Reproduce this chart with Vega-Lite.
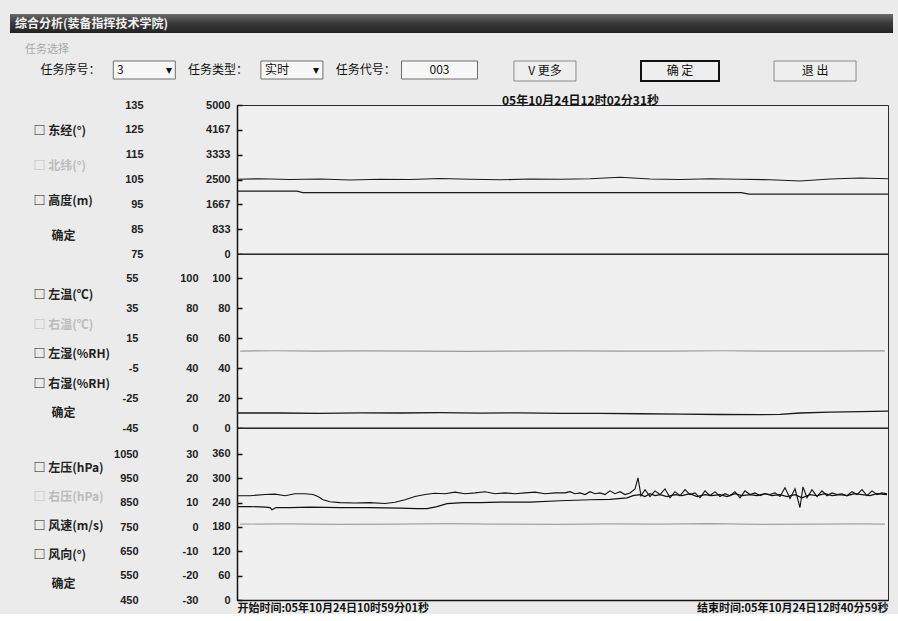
{
  "$schema": "https://vega.github.io/schema/vega-lite/v6.json",
  "padding": {"left": 10, "top": 14, "right": 5, "bottom": 0},
  "background": "#ebebeb",
  "spacing": 12,
  "config": {
    "view": {"stroke": null},
    "font": "Noto Sans CJK SC",
    "axis": {"grid": false, "labelFont": "Liberation Sans"},
    "text": {"font": "Noto Sans CJK SC"},
    "title": {"font": "Noto Sans CJK SC"}
  },
  "datasets": {
    "task": [
      {"控件": "任务序号：", "类型": "标签", "显示": "任务序号："},
      {"控件": "3", "类型": "下拉框", "显示": "3\u2003\u2003\u2003\u2002▾"},
      {"控件": "任务类型：", "类型": "标签", "显示": "任务类型："},
      {"控件": "实时", "类型": "下拉框", "显示": "实时\u2003\u2003▾"},
      {"控件": "任务代号：", "类型": "标签", "显示": "任务代号："},
      {"控件": "003", "类型": "编辑框", "显示": "003\u2003\u2003\u2003\u2003"}
    ],
    "buttons": [
      {"控件": "V 更多"},
      {"控件": "确 定"},
      {"控件": "退 出"}
    ],
    "ctlTop": [
      {"控件": "□ 东经(°)"},
      {"控件": "□ 北纬(°)"},
      {"控件": "□ 高度(m)"},
      {"控件": "\u200b\u2003\u2002确定"}
    ],
    "ctlMid": [
      {"控件": "□ 左温(℃)"},
      {"控件": "□ 右温(℃)"},
      {"控件": "□ 左湿(%RH)"},
      {"控件": "□ 右湿(%RH)"},
      {"控件": "\u200b\u2003\u2002确定"}
    ],
    "ctlBot": [
      {"控件": "□ 左压(hPa)"},
      {"控件": "□ 右压(hPa)"},
      {"控件": "□ 风速(m/s)"},
      {"控件": "□ 风向(°)"},
      {"控件": "\u200b\u2003\u2002确定"}
    ],
    "lon": [
      {"分钟": 0, "数值": 105.1}, {"分钟": 3.6, "数值": 105.3}, {"分钟": 8.3, "数值": 105.0}, {"分钟": 13.0, "数值": 105.2},
      {"分钟": 17.7, "数值": 104.8}, {"分钟": 22.4, "数值": 105.1}, {"分钟": 27.1, "数值": 105.0}, {"分钟": 31.8, "数值": 105.4},
      {"分钟": 36.5, "数值": 105.1}, {"分钟": 41.2, "数值": 104.9}, {"分钟": 45.9, "数值": 105.2}, {"分钟": 50.6, "数值": 105.1},
      {"分钟": 55.3, "数值": 105.3}, {"分钟": 60.0, "数值": 105.9}, {"分钟": 64.7, "数值": 105.2}, {"分钟": 69.4, "数值": 105.0},
      {"分钟": 74.1, "数值": 105.3}, {"分钟": 78.8, "数值": 105.1}, {"分钟": 83.5, "数值": 104.9}, {"分钟": 88.2, "数值": 104.4},
      {"分钟": 92.9, "数值": 105.2}, {"分钟": 97.6, "数值": 105.6}, {"分钟": 101.97, "数值": 105.3}
    ],
    "alt": [
      {"分钟": 0, "数值": 2110}, {"分钟": 9.4, "数值": 2110}, {"分钟": 10.3, "数值": 2057},
      {"分钟": 79.0, "数值": 2057}, {"分钟": 80.2, "数值": 2010}, {"分钟": 101.97, "数值": 2010}
    ],
    "humR": [
      {"分钟": 0, "数值": 10.0}, {"分钟": 6.74, "数值": 10.0}, {"分钟": 13.0, "数值": 9.8}, {"分钟": 19.27, "数值": 10.1},
      {"分钟": 25.53, "数值": 10.0}, {"分钟": 31.8, "数值": 10.2}, {"分钟": 38.06, "数值": 9.9}, {"分钟": 44.33, "数值": 10.1},
      {"分钟": 50.59, "数值": 9.8}, {"分钟": 56.86, "数值": 9.7}, {"分钟": 63.12, "数值": 9.5}, {"分钟": 69.39, "数值": 9.3},
      {"分钟": 75.65, "数值": 9.0}, {"分钟": 81.92, "数值": 8.9}, {"分钟": 85.05, "数值": 9.1}, {"分钟": 88.18, "数值": 10.0},
      {"分钟": 92.88, "数值": 10.6}, {"分钟": 97.58, "数值": 10.9}, {"分钟": 101.97, "数值": 11.2}
    ],
    "humL": [],
    "tempL": [
      {"分钟": 0.5, "数值": 6.3}, {"分钟": 6, "数值": 6.5}, {"分钟": 12, "数值": 6.2}, {"分钟": 20, "数值": 6.4},
      {"分钟": 28, "数值": 6.3}, {"分钟": 36, "数值": 6.1}, {"分钟": 44, "数值": 6.3}, {"分钟": 52, "数值": 6.4},
      {"分钟": 60, "数值": 6.2}, {"分钟": 68, "数值": 6.3}, {"分钟": 76, "数值": 6.5}, {"分钟": 84, "数值": 6.2},
      {"分钟": 92, "数值": 6.3}, {"分钟": 101.5, "数值": 6.4}
    ],
    "wdir": [
      {"分钟": 0, "数值": 257}, {"分钟": 2.04, "数值": 257}, {"分钟": 4.39, "数值": 260}, {"分钟": 5.95, "数值": 261},
      {"分钟": 7.52, "数值": 257}, {"分钟": 9.08, "数值": 262}, {"分钟": 10.65, "数值": 262}, {"分钟": 11.9, "数值": 260},
      {"分钟": 12.69, "数值": 255}, {"分钟": 13.47, "数值": 247}, {"分钟": 14.57, "数值": 242}, {"分钟": 16.13, "数值": 240},
      {"分钟": 18.48, "数值": 239}, {"分钟": 20.83, "数值": 240}, {"分钟": 23.18, "数值": 238}, {"分钟": 24.75, "数值": 241},
      {"分钟": 26.31, "数值": 247}, {"分钟": 27.88, "数值": 255}, {"分钟": 29.45, "数值": 260}, {"分钟": 31.01, "数值": 263},
      {"分钟": 32.58, "数值": 262}, {"分钟": 34.15, "数值": 266}, {"分钟": 35.71, "数值": 262}, {"分钟": 37.28, "数值": 264},
      {"分钟": 38.84, "数值": 267}, {"分钟": 40.41, "数值": 262}, {"分钟": 41.98, "数值": 264}, {"分钟": 43.54, "数值": 262},
      {"分钟": 45.11, "数值": 264}, {"分钟": 46.68, "数值": 266}, {"分钟": 48.24, "数值": 262}, {"分钟": 49.81, "数值": 264},
      {"分钟": 51.38, "数值": 264}, {"分钟": 52.16, "数值": 267}, {"分钟": 52.94, "数值": 262}, {"分钟": 53.72, "数值": 264},
      {"分钟": 54.51, "数值": 260}, {"分钟": 55.29, "数值": 267}, {"分钟": 56.07, "数值": 262}, {"分钟": 56.86, "数值": 264},
      {"分钟": 57.64, "数值": 260}, {"分钟": 58.42, "数值": 269}, {"分钟": 59.21, "数值": 262}, {"分钟": 59.99, "数值": 267},
      {"分钟": 60.77, "数值": 260}, {"分钟": 61.56, "数值": 264}, {"分钟": 62.34, "数值": 274}, {"分钟": 62.81, "数值": 301},
      {"分钟": 63.28, "数值": 257}, {"分钟": 63.91, "数值": 272}, {"分钟": 64.69, "数值": 255}, {"分钟": 65.47, "数值": 269},
      {"分钟": 66.26, "数值": 260}, {"分钟": 67.04, "数值": 274}, {"分钟": 67.82, "数值": 252}, {"分钟": 68.6, "数值": 267},
      {"分钟": 69.39, "数值": 257}, {"分钟": 70.17, "数值": 272}, {"分钟": 70.95, "数值": 260}, {"分钟": 71.74, "数值": 264},
      {"分钟": 72.52, "数值": 252}, {"分钟": 73.3, "数值": 269}, {"分钟": 74.09, "数值": 257}, {"分钟": 74.87, "数值": 267},
      {"分钟": 75.65, "数值": 255}, {"分钟": 76.44, "数值": 262}, {"分钟": 77.22, "数值": 257}, {"分钟": 78.0, "数值": 267},
      {"分钟": 78.79, "数值": 252}, {"分钟": 79.57, "数值": 269}, {"分钟": 80.35, "数值": 260}, {"分钟": 81.14, "数值": 264},
      {"分钟": 81.92, "数值": 257}, {"分钟": 82.7, "数值": 262}, {"分钟": 83.48, "数值": 260}, {"分钟": 84.27, "数值": 264},
      {"分钟": 85.05, "数值": 255}, {"分钟": 85.83, "数值": 277}, {"分钟": 86.62, "数值": 250}, {"分钟": 87.4, "数值": 274},
      {"分钟": 88.18, "数值": 228}, {"分钟": 88.65, "数值": 279}, {"分钟": 89.28, "数值": 252}, {"分钟": 90.06, "数值": 272},
      {"分钟": 90.85, "数值": 255}, {"分钟": 91.63, "数值": 269}, {"分钟": 92.41, "数值": 257}, {"分钟": 93.2, "数值": 264},
      {"分钟": 93.98, "数值": 260}, {"分钟": 94.76, "数值": 262}, {"分钟": 95.54, "数值": 257}, {"分钟": 96.33, "数值": 267},
      {"分钟": 97.11, "数值": 260}, {"分钟": 97.89, "数值": 272}, {"分钟": 98.68, "数值": 257}, {"分钟": 99.46, "数值": 269},
      {"分钟": 100.24, "数值": 260}, {"分钟": 101.03, "数值": 264}, {"分钟": 101.81, "数值": 262}
    ],
    "presL": [
      {"分钟": 0, "数值": 834}, {"分钟": 2.04, "数值": 834}, {"分钟": 4.39, "数值": 832}, {"分钟": 5.17, "数值": 830},
      {"分钟": 5.48, "数值": 821}, {"分钟": 6.11, "数值": 830}, {"分钟": 8.3, "数值": 830}, {"分钟": 11.43, "数值": 832},
      {"分钟": 16.13, "数值": 830}, {"分钟": 20.83, "数值": 830}, {"分钟": 25.53, "数值": 828}, {"分钟": 28.19, "数值": 826},
      {"分钟": 29.76, "数值": 826}, {"分钟": 31.33, "数值": 834}, {"分钟": 32.89, "数值": 846}, {"分钟": 35.4, "数值": 850},
      {"分钟": 38.06, "数值": 850}, {"分钟": 41.19, "数值": 852}, {"分钟": 45.89, "数值": 852}, {"分钟": 50.59, "数值": 858},
      {"分钟": 55.29, "数值": 862}, {"分钟": 58.42, "数值": 864}, {"分钟": 61.09, "数值": 870}, {"分钟": 62.03, "数值": 879},
      {"分钟": 63.12, "数值": 883}, {"分钟": 63.91, "数值": 875}, {"分钟": 64.69, "数值": 887}, {"分钟": 65.47, "数值": 879},
      {"分钟": 66.26, "数值": 883}, {"分钟": 67.35, "数值": 875}, {"分钟": 68.6, "数值": 883}, {"分钟": 69.7, "数值": 879},
      {"分钟": 70.95, "数值": 887}, {"分钟": 72.05, "数值": 875}, {"分钟": 73.3, "数值": 883}, {"分钟": 74.4, "数值": 879},
      {"分钟": 75.65, "数值": 883}, {"分钟": 76.75, "数值": 875}, {"分钟": 78.0, "数值": 887}, {"分钟": 79.1, "数值": 879},
      {"分钟": 80.35, "数值": 883}, {"分钟": 81.45, "数值": 879}, {"分钟": 82.7, "数值": 887}, {"分钟": 83.8, "数值": 879},
      {"分钟": 85.05, "数值": 883}, {"分钟": 86.15, "数值": 875}, {"分钟": 87.4, "数值": 883}, {"分钟": 88.5, "数值": 870},
      {"分钟": 89.75, "数值": 883}, {"分钟": 90.85, "数值": 879}, {"分钟": 92.1, "数值": 887}, {"分钟": 93.2, "数值": 879},
      {"分钟": 94.45, "数值": 883}, {"分钟": 95.54, "数值": 879}, {"分钟": 96.8, "数值": 887}, {"分钟": 97.89, "数值": 883},
      {"分钟": 99.15, "数值": 879}, {"分钟": 100.24, "数值": 887}, {"分钟": 101.81, "数值": 883}
    ],
    "wspd": [
      {"分钟": 0.5, "数值": 1.2}, {"分钟": 8, "数值": 1.3}, {"分钟": 16, "数值": 1.1}, {"分钟": 25, "数值": 1.2},
      {"分钟": 33, "数值": 1.4}, {"分钟": 40, "数值": 1.2}, {"分钟": 50, "数值": 1.1}, {"分钟": 58, "数值": 1.3},
      {"分钟": 66, "数值": 1.2}, {"分钟": 74, "数值": 1.4}, {"分钟": 82, "数值": 1.1}, {"分钟": 90, "数值": 1.2},
      {"分钟": 98, "数值": 1.3}, {"分钟": 101.5, "数值": 1.2}
    ]
  },
  "vconcat": [
    {
      "spacing": 10,
      "vconcat": [
        {
          "width": 883,
          "height": 19,
          "view": {"stroke": null, "fill": {"gradient": "linear", "x1": 0, "y1": 0, "x2": 0, "y2": 1, "stops": [{"offset": 0, "color": "#6a6a6a"}, {"offset": 0.45, "color": "#3c3c3c"}, {"offset": 1, "color": "#222222"}]}},
          "data": {"values": [{"窗口": "综合分析(装备指挥技术学院)"}]},
          "mark": {"type": "text", "align": "left", "baseline": "middle", "color": "#f2f2f2", "fontSize": 12, "fontWeight": "bold", "dx": 5},
          "encoding": {
            "text": {"field": "窗口"},
            "x": {"datum": 0, "type": "quantitative", "scale": {"domain": [0, 1]}, "axis": null}
          }
        },
        {
          "spacing": 0,
          "hconcat": [
            {
              "width": 490,
              "height": 18,
              "title": {"text": "任务选择", "anchor": "start", "dx": 15, "offset": 6, "fontSize": 11, "fontWeight": "normal", "color": "#a8a8a8"},
              "data": {"name": "task"},
              "encoding": {
                "x": {"field": "控件", "type": "nominal", "scale": {"type": "point", "padding": 0.82, "domain": ["任务序号：", "3", "任务类型：", "实时", "任务代号：", "003"]}, "axis": null}
              },
              "layer": [
                {
                  "transform": [{"filter": "datum['类型'] !== '标签'"}],
                  "mark": {"type": "bar", "fill": "#f7f7f7", "stroke": "#6e6e6e", "strokeWidth": 1},
                  "encoding": {
                    "y": {"datum": 0, "type": "quantitative", "scale": {"domain": [0, 1]}, "axis": null},
                    "y2": {"datum": 1},
                    "size": {"condition": {"test": "datum['类型'] === '编辑框'", "value": 76}, "value": 62}
                  }
                },
                {
                  "mark": {"type": "text", "fontSize": 12, "color": "#111111"},
                  "encoding": {"text": {"field": "显示"}}
                }
              ]
            },
            {
              "width": 360,
              "height": 20,
              "data": {"name": "buttons"},
              "encoding": {
                "x": {"field": "控件", "type": "nominal", "scale": {"type": "point", "padding": 0.333, "domain": ["V 更多", "确 定", "退 出"]}, "axis": null}
              },
              "layer": [
                {
                  "mark": {"type": "bar", "fill": "#eeeeee"},
                  "encoding": {
                    "y": {"datum": 0, "type": "quantitative", "scale": {"domain": [0, 1]}, "axis": null},
                    "y2": {"datum": 1},
                    "size": {"condition": [{"test": "datum['控件'] === '确 定'", "value": 78}, {"test": "datum['控件'] === '退 出'", "value": 82}], "value": 62},
                    "stroke": {"condition": {"test": "datum['控件'] === '确 定'", "value": "#111111"}, "value": "#8a8a8a"},
                    "strokeWidth": {"condition": {"test": "datum['控件'] === '确 定'", "value": 2}, "value": 1}
                  }
                },
                {
                  "mark": {"type": "text", "fontSize": 12, "color": "#111111"},
                  "encoding": {"text": {"field": "控件"}}
                }
              ]
            }
          ]
        }
      ]
    },
    {
      "spacing": 21,
      "hconcat": [
        {
          "width": 1,
          "height": 1,
          "data": {"values": [{"占位": 0}]},
          "mark": {"type": "point", "opacity": 0, "size": 0, "strokeWidth": 0}
        },
        {
          "spacing": 0,
          "bounds": "flush",
          "vconcat": [
            {
              "width": 651,
              "height": 149,
              "title": {"text": "05年10月24日12时02分31秒", "anchor": "middle", "dx": 18, "offset": -9, "fontSize": 12, "fontWeight": "bold", "color": "#111111"},
              "view": {"stroke": "#2a2a2a", "strokeWidth": 1, "fill": "#f0f0f0"},
              "resolve": {"scale": {"y": "independent"}, "axis": {"y": "independent"}},
              "layer": [
                {
                  "data": {"name": "alt"},
                  "mark": {"type": "line", "color": "#1a1a1a", "strokeWidth": 1.2},
                  "encoding": {
                    "x": {"field": "分钟", "type": "quantitative", "scale": {"domain": [0, 101.967], "nice": false, "zero": false},
                      "axis": {"orient": "bottom", "labels": false, "ticks": false, "domain": true, "domainColor": "#111111", "domainWidth": 2, "title": null}},
                    "y": {"field": "数值", "type": "quantitative", "scale": {"domain": [0, 5000], "nice": false, "zero": false},
                      "axis": {"orient": "left", "offset": 0, "values": [0, 833, 1667, 2500, 3333, 4167, 5000], "labelExpr": "'' + datum.value", "title": null, "domain": true, "domainColor": "#111111", "domainWidth": 1.5, "ticks": true, "tickSize": -5, "tickColor": "#111111", "tickWidth": 1.5, "labelPadding": 12, "labelFontSize": 11, "labelFontWeight": "bold", "labelColor": "#222222", "labelFlush": false, "labelOverlap": false, "labelBound": false}}
                  }
                },
                {
                  "data": {"name": "lon"},
                  "mark": {"type": "line", "color": "#1a1a1a", "strokeWidth": 1.2},
                  "encoding": {
                    "x": {"field": "分钟", "type": "quantitative"},
                    "y": {"field": "数值", "type": "quantitative", "scale": {"domain": [75, 135], "nice": false, "zero": false},
                      "axis": {"orient": "left", "offset": 94, "values": [75, 85, 95, 105, 115, 125, 135], "labelExpr": "'' + datum.value", "title": null, "domain": false, "ticks": false, "labelPadding": 0, "labelFontSize": 11, "labelFontWeight": "bold", "labelColor": "#222222", "labelFlush": false, "labelOverlap": false}}
                  }
                },
                {
                  "data": {"name": "ctlTop"},
                  "mark": {"type": "point", "opacity": 0},
                  "encoding": {
                    "y": {"field": "控件", "type": "nominal", "sort": null, "scale": {"type": "point", "padding": 0.643, "align": 0.58},
                      "axis": {"orient": "left", "offset": 202, "labelPadding": 2, "title": null, "domain": false, "ticks": false, "labelAlign": "left", "labelFont": "Noto Sans CJK SC", "labelFontSize": 12, "labelFontWeight": "bold",
                        "labelColor": {"condition": {"test": "indexof(datum.value, '北纬') >= 0", "value": "#bbbbbb"}, "value": "#222222"}}}
                  }
                }
              ]
            },
            {
              "width": 651,
              "height": 174,
              "view": {"stroke": "#2a2a2a", "strokeWidth": 1, "fill": "#f0f0f0"},
              "resolve": {"scale": {"y": "independent"}, "axis": {"y": "independent"}},
              "layer": [
                {
                  "data": {"name": "humR"},
                  "mark": {"type": "line", "color": "#1a1a1a", "strokeWidth": 1.3},
                  "encoding": {
                    "x": {"field": "分钟", "type": "quantitative", "scale": {"domain": [0, 101.967], "nice": false, "zero": false},
                      "axis": {"orient": "bottom", "labels": false, "ticks": false, "domain": true, "domainColor": "#111111", "domainWidth": 2, "title": null}},
                    "y": {"field": "数值", "type": "quantitative", "scale": {"domain": [0, 116], "nice": false, "zero": false},
                      "axis": {"orient": "left", "offset": 0, "values": [0, 20, 40, 60, 80, 100], "labelExpr": "'' + datum.value", "title": null, "domain": true, "domainColor": "#111111", "domainWidth": 1.5, "ticks": true, "tickSize": -5, "tickColor": "#111111", "tickWidth": 1.5, "labelPadding": 12, "labelFontSize": 11, "labelFontWeight": "bold", "labelColor": "#222222", "labelFlush": false, "labelOverlap": false, "labelBound": false}}
                  }
                },
                {
                  "data": {"name": "humL"},
                  "mark": {"type": "line", "color": "#1a1a1a", "strokeWidth": 1.2},
                  "encoding": {
                    "x": {"field": "分钟", "type": "quantitative"},
                    "y": {"field": "数值", "type": "quantitative", "scale": {"domain": [0, 116], "nice": false, "zero": false},
                      "axis": {"orient": "left", "offset": 39, "values": [0, 20, 40, 60, 80, 100], "labelExpr": "'' + datum.value", "title": null, "domain": false, "ticks": false, "labelPadding": 0, "labelFontSize": 11, "labelFontWeight": "bold", "labelColor": "#222222", "labelFlush": false, "labelOverlap": false}}
                  }
                },
                {
                  "data": {"name": "tempL"},
                  "mark": {"type": "line", "color": "#9a9a9a", "strokeWidth": 1.2},
                  "encoding": {
                    "x": {"field": "分钟", "type": "quantitative"},
                    "y": {"field": "数值", "type": "quantitative", "scale": {"domain": [-45, 71], "nice": false, "zero": false},
                      "axis": {"orient": "left", "offset": 99, "values": [-45, -25, -5, 15, 35, 55], "labelExpr": "'' + datum.value", "title": null, "domain": false, "ticks": false, "labelPadding": 0, "labelFontSize": 11, "labelFontWeight": "bold", "labelColor": "#222222", "labelFlush": false, "labelOverlap": false}}
                  }
                },
                {
                  "data": {"name": "ctlMid"},
                  "mark": {"type": "point", "opacity": 0},
                  "encoding": {
                    "y": {"field": "控件", "type": "nominal", "sort": null, "scale": {"type": "point", "padding": 0.949, "align": 0.73},
                      "axis": {"orient": "left", "offset": 202, "labelPadding": 2, "title": null, "domain": false, "ticks": false, "labelAlign": "left", "labelFont": "Noto Sans CJK SC", "labelFontSize": 12, "labelFontWeight": "bold",
                        "labelColor": {"condition": {"test": "indexof(datum.value, '右温') >= 0", "value": "#bbbbbb"}, "value": "#222222"}}}
                  }
                }
              ]
            },
            {
              "width": 651,
              "height": 172,
              "view": {"stroke": "#2a2a2a", "strokeWidth": 1, "fill": "#f0f0f0"},
              "resolve": {"scale": {"y": "independent"}, "axis": {"y": "independent"}},
              "layer": [
                {
                  "data": {"name": "wdir"},
                  "mark": {"type": "line", "color": "#111111", "strokeWidth": 1.1},
                  "encoding": {
                    "x": {"field": "分钟", "type": "quantitative", "scale": {"domain": [0, 101.967], "nice": false, "zero": false},
                      "axis": {"orient": "bottom", "values": [0, 101.967], "labelExpr": "datum.value < 50 ? '开始时间:05年10月24日10时59分01秒' : '结束时间:05年10月24日12时40分59秒'", "labelFlush": true, "labelLimit": 0, "labelFont": "Noto Sans CJK SC", "labelFontSize": 11, "labelFontWeight": "bold", "labelColor": "#111111", "labelPadding": 2, "ticks": false, "domain": true, "domainColor": "#111111", "domainWidth": 1.5, "title": null}},
                    "y": {"field": "数值", "type": "quantitative", "scale": {"domain": [0, 424], "nice": false, "zero": false},
                      "axis": {"orient": "left", "offset": 0, "values": [0, 60, 120, 180, 240, 300, 360], "labelExpr": "'' + datum.value", "title": null, "domain": true, "domainColor": "#111111", "domainWidth": 1.5, "ticks": true, "tickSize": -5, "tickColor": "#111111", "tickWidth": 1.5, "labelPadding": 12, "labelFontSize": 11, "labelFontWeight": "bold", "labelColor": "#222222", "labelFlush": false, "labelOverlap": false, "labelBound": false}}
                  }
                },
                {
                  "data": {"name": "wspd"},
                  "mark": {"type": "line", "color": "#a0a0a0", "strokeWidth": 1.2},
                  "encoding": {
                    "x": {"field": "分钟", "type": "quantitative"},
                    "y": {"field": "数值", "type": "quantitative", "scale": {"domain": [-30, 40.7], "nice": false, "zero": false},
                      "axis": {"orient": "left", "offset": 39, "values": [-30, -20, -10, 0, 10, 20, 30], "labelExpr": "'' + datum.value", "title": null, "domain": false, "ticks": false, "labelPadding": 0, "labelFontSize": 11, "labelFontWeight": "bold", "labelColor": "#222222", "labelFlush": false, "labelOverlap": false}}
                  }
                },
                {
                  "data": {"name": "presL"},
                  "mark": {"type": "line", "color": "#111111", "strokeWidth": 1.2},
                  "encoding": {
                    "x": {"field": "分钟", "type": "quantitative"},
                    "y": {"field": "数值", "type": "quantitative", "scale": {"domain": [450, 1157], "nice": false, "zero": false},
                      "axis": {"orient": "left", "offset": 99, "values": [450, 550, 650, 750, 850, 950, 1050], "labelExpr": "'' + datum.value", "title": null, "domain": false, "ticks": false, "labelPadding": 0, "labelFontSize": 11, "labelFontWeight": "bold", "labelColor": "#222222", "labelFlush": false, "labelOverlap": false}}
                  }
                },
                {
                  "data": {"name": "ctlBot"},
                  "mark": {"type": "point", "opacity": 0},
                  "encoding": {
                    "y": {"field": "控件", "type": "nominal", "sort": null, "scale": {"type": "point", "padding": 0.966, "align": 0.7},
                      "axis": {"orient": "left", "offset": 202, "labelPadding": 2, "title": null, "domain": false, "ticks": false, "labelAlign": "left", "labelFont": "Noto Sans CJK SC", "labelFontSize": 12, "labelFontWeight": "bold",
                        "labelColor": {"condition": {"test": "indexof(datum.value, '右压') >= 0", "value": "#bbbbbb"}, "value": "#222222"}}}
                  }
                }
              ]
            }
          ]
        }
      ]
    }
  ]
}
